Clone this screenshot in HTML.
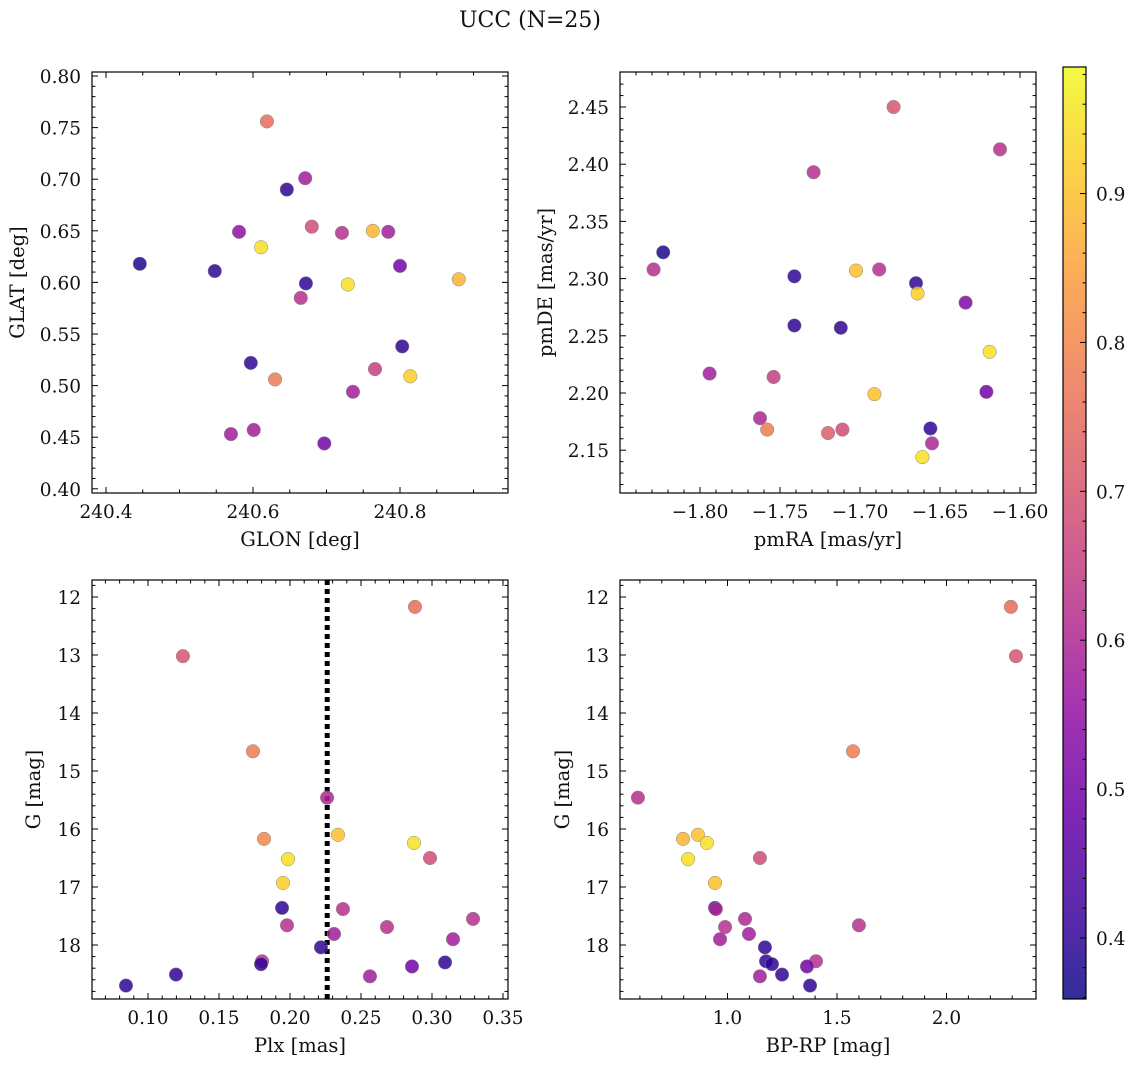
<!DOCTYPE html>
<html><head><meta charset="utf-8"><style>
html,body{margin:0;padding:0;background:#fff}
svg text{font-family:"DejaVu Serif","Liberation Serif",serif;fill:#111}
</style></head><body>
<svg id="chart" width="1136" height="1067" viewBox="0 0 1136 1067" xmlns="http://www.w3.org/2000/svg">
<text x="530" y="27" font-size="22" text-anchor="middle">UCC (N=25)</text>
</svg>
<script>
// ---- data ----
const glon=[240.446,240.548,240.581,240.611,240.646,240.619,240.671,240.680,240.672,240.665,240.721,240.763,240.784,240.729,240.800,240.880,240.597,240.630,240.803,240.766,240.736,240.814,240.570,240.601,240.697];
const glat=[0.618,0.611,0.649,0.634,0.690,0.756,0.701,0.654,0.599,0.585,0.648,0.650,0.649,0.598,0.616,0.603,0.522,0.506,0.538,0.516,0.494,0.509,0.453,0.457,0.444];
const cGal=[0.38,0.40,0.55,0.95,0.40,0.75,0.58,0.68,0.40,0.62,0.62,0.88,0.58,0.95,0.50,0.88,0.40,0.78,0.40,0.65,0.58,0.92,0.58,0.58,0.50];
const pmra=[-1.823,-1.829,-1.741,-1.741,-1.712,-1.729,-1.679,-1.6125,-1.7025,-1.688,-1.665,-1.664,-1.634,-1.619,-1.621,-1.794,-1.754,-1.691,-1.7625,-1.758,-1.720,-1.711,-1.656,-1.655,-1.661];
const pmde=[2.323,2.308,2.302,2.259,2.257,2.393,2.450,2.413,2.307,2.308,2.296,2.287,2.279,2.236,2.201,2.217,2.214,2.199,2.178,2.168,2.165,2.168,2.169,2.156,2.144];
const cPm=[0.38,0.62,0.40,0.40,0.40,0.62,0.70,0.62,0.90,0.62,0.40,0.92,0.52,0.95,0.50,0.58,0.65,0.90,0.60,0.78,0.72,0.68,0.40,0.60,0.95];
const plx=[0.0845,0.1197,0.1246,0.1739,0.1817,0.1986,0.1951,0.1944,0.1979,0.1803,0.1796,0.2261,0.2338,0.2218,0.2310,0.2373,0.2880,0.2873,0.2986,0.2683,0.2859,0.2563,0.3092,0.3148,0.3289];
const gPlx=[18.70,18.51,13.02,14.66,16.17,16.52,16.93,17.36,17.66,18.28,18.33,15.46,16.10,18.04,17.81,17.38,12.17,16.24,16.50,17.69,18.37,18.54,18.30,17.90,17.55];
const cPlx=[0.40,0.40,0.70,0.78,0.80,0.95,0.92,0.40,0.62,0.62,0.40,0.60,0.90,0.40,0.58,0.62,0.75,0.95,0.68,0.62,0.50,0.58,0.40,0.58,0.62];
const bprp=[0.591,0.797,0.865,0.820,0.906,0.943,0.943,0.947,2.294,2.317,1.573,1.148,1.080,0.989,0.966,1.098,1.171,1.176,1.203,1.249,1.148,1.404,1.363,1.377,1.600];
const gCmd=[15.46,16.17,16.10,16.52,16.24,16.93,17.36,17.38,12.17,13.02,14.66,16.50,17.55,17.69,17.90,17.81,18.04,18.28,18.33,18.51,18.54,18.28,18.37,18.70,17.66];
const cCmd=[0.62,0.88,0.90,0.95,0.95,0.90,0.40,0.60,0.75,0.70,0.78,0.68,0.60,0.62,0.58,0.58,0.40,0.40,0.40,0.40,0.58,0.62,0.50,0.40,0.62];
const plxLine=[0.2262];
const cbTicks=[0.4,0.5,0.6,0.7,0.8,0.9];
const cMin=0.359, cMax=0.985;

const NS="http://www.w3.org/2000/svg";
const svg=document.getElementById('chart');
function mk(tag,attrs,parent){const e=document.createElementNS(NS,tag);for(const k in attrs)e.setAttribute(k,attrs[k]);(parent||svg).appendChild(e);return e;}
const stops=[[0,'#0d0887'],[0.1,'#41049d'],[0.2,'#6a00a8'],[0.3,'#8f0da4'],[0.4,'#b12a90'],[0.5,'#cc4778'],[0.6,'#e16462'],[0.7,'#f2844b'],[0.8,'#fca636'],[0.9,'#fcce25'],[1,'#f0f921']];
function hx(h){return [parseInt(h.substr(1,2),16),parseInt(h.substr(3,2),16),parseInt(h.substr(5,2),16)];}
function plasma(t){t=Math.max(0,Math.min(1,t));for(let i=0;i<stops.length-1;i++){if(t<=stops[i+1][0]){const f=(t-stops[i][0])/(stops[i+1][0]-stops[i][0]);const a=hx(stops[i][1]),b=hx(stops[i+1][1]);return 'rgb('+a.map((v,j)=>Math.round(v+(b[j]-v)*f)).join(',')+')';}}return stops[10][1];}
function cmap(c){return plasma((c-cMin)/(cMax-cMin));}
function fmt(v,d){const s=Math.abs(v).toFixed(d);return (v<-1e-9?'\u2212':'')+s;}
const TF=18.5, LF=19.5;
function panel(p){
  const X=v=>p.xp0+(v-p.xv0)*p.xs, Y=v=>p.yp0+(v-p.yv0)*p.ys;
  const g=mk('g',{});  
  const cid='clip-'+p.name;
  const cp=mk('clipPath',{id:cid},g); mk('rect',{x:p.x0,y:p.y0,width:p.x1-p.x0,height:p.y1-p.y0},cp);
  const marks=mk('g',{'clip-path':'url(#'+cid+')'},g);
  if(p.vline){p.vline.forEach(v=>{const l=mk('line',{x1:X(v),x2:X(v),y1:p.y0,y2:p.y1,stroke:'#000','stroke-width':5,'stroke-dasharray':'5,4'},marks);});}
  p.xs_.forEach((xv,i)=>{const c=mk('circle',{cx:X(xv),cy:Y(p.ys_[i]),r:6.8,fill:cmap(p.cs[i]),'fill-opacity':0.85,stroke:'#888','stroke-width':0.5},marks);
    });
  const fr=mk('rect',{x:p.x0,y:p.y0,width:p.x1-p.x0,height:p.y1-p.y0,fill:'none',stroke:'#000','stroke-width':1.2},g);
  
  function ticks(axis){
    const isX=axis==='x';
    const a=isX?p.x0:p.y0,b=isX?p.x1:p.y1;
    const inv=isX?(px=>p.xv0+(px-p.xp0)/p.xs):(px=>p.yv0+(px-p.yp0)/p.ys);
    let v1=inv(a+2),v2=inv(b-2); if(v1>v2){const t=v1;v1=v2;v2=t;}
    const maj=isX?p.xmaj:p.ymaj, nd=isX?p.xdiv:p.ydiv, dec=isX?p.xdec:p.ydec, step=maj/nd;
    for(let k=Math.ceil(v1/step-1e-6);k<=Math.floor(v2/step+1e-6);k++){
      const v=k*step; const isMaj=Math.abs(v/maj-Math.round(v/maj))<1e-6; const L=isMaj?6:3.5;
      if(isX){const x=X(v);mk('line',{x1:x,x2:x,y1:p.y1,y2:p.y1-L,stroke:'#000','stroke-width':1},g);mk('line',{x1:x,x2:x,y1:p.y0,y2:p.y0+L,stroke:'#000','stroke-width':1},g);
        if(isMaj){const t=mk('text',{x:x,y:p.y1+25,'font-size':TF,'text-anchor':'middle'},g);t.textContent=fmt(v,dec);}}
      else{const y=Y(v);mk('line',{x1:p.x0,x2:p.x0+L,y1:y,y2:y,stroke:'#000','stroke-width':1},g);mk('line',{x1:p.x1,x2:p.x1-L,y1:y,y2:y,stroke:'#000','stroke-width':1},g);
        if(isMaj){const t=mk('text',{x:p.x0-11,y:y+7,'font-size':TF,'text-anchor':'end'},g);t.textContent=fmt(v,dec);}}
    }
  }
  ticks('x');ticks('y');
  const xl=mk('text',{x:(p.x0+p.x1)/2,y:p.y1+53,'font-size':LF,'text-anchor':'middle'},g);xl.textContent=p.xlabel;
  
  const yx=p.ylx, yy=(p.y0+p.y1)/2;
  const yl=mk('text',{x:yx,y:yy,'font-size':LF,'text-anchor':'middle',transform:'rotate(-90 '+yx+' '+yy+')'},g);yl.textContent=p.ylabel;
  
}
panel({name:'glon-glat-panel',x0:92,x1:508,y0:72,y1:493,xp0:106,xv0:240.4,xs:735,yp0:76,yv0:0.80,ys:-1032,
  xmaj:0.2,xdiv:4,xdec:1,ymaj:0.05,ydiv:5,ydec:2,xs_:glon,ys_:glat,cs:cGal,xlabel:'GLON [deg]',ylabel:'GLAT [deg]',ylx:24});
panel({name:'pm-panel',x0:620,x1:1036,y0:72,y1:493,xp0:700,xv0:-1.80,xs:1600,yp0:107,yv0:2.45,ys:-1144,
  xmaj:0.05,xdiv:5,xdec:2,ymaj:0.05,ydiv:5,ydec:2,xs_:pmra,ys_:pmde,cs:cPm,xlabel:'pmRA [mas/yr]',ylabel:'pmDE [mas/yr]',ylx:552});
panel({name:'plx-g-panel',x0:92,x1:508,y0:580,y1:999,xp0:148,xv0:0.10,xs:1420,yp0:597,yv0:12,ys:58,
  xmaj:0.05,xdiv:5,xdec:2,ymaj:1,ydiv:5,ydec:0,xs_:plx,ys_:gPlx,cs:cPlx,xlabel:'Plx [mas]',ylabel:'G [mag]',ylx:40,vline:plxLine});
panel({name:'cmd-panel',x0:620,x1:1036,y0:580,y1:999,xp0:727.5,xv0:1.0,xs:219,yp0:597,yv0:12,ys:58,
  xmaj:0.5,xdiv:5,xdec:1,ymaj:1,ydiv:5,ydec:0,xs_:bprp,ys_:gCmd,cs:cCmd,xlabel:'BP-RP [mag]',ylabel:'G [mag]',ylx:569});
(function(){
  const x0=1063,x1=1086,y0=67,y1=999;
  const g=mk('g',{});
  const defs=mk('defs',{},g);const lg=mk('linearGradient',{id:'cbg',x1:0,y1:1,x2:0,y2:0},defs);
  for(let i=0;i<=20;i++){const t=i/20;mk('stop',{offset:t,'stop-color':plasma(t),'stop-opacity':0.85},lg);}
  mk('rect',{x:x0,y:y0,width:x1-x0,height:y1-y0,fill:'url(#cbg)',stroke:'#000','stroke-width':1.2},g);
  const Yc=v=>y1-(v-cMin)/(cMax-cMin)*(y1-y0);
  for(let k=Math.ceil(cMin/0.02);k*0.02<=cMax;k++){const v=k*0.02;const isMaj=Math.abs(v*10-Math.round(v*10))<1e-6;const y=Yc(v);
    mk('line',{x1:x1,x2:x1-(isMaj?6:3.5),y1:y,y2:y,stroke:'#000','stroke-width':1},g);}
  cbTicks.forEach(v=>{const t=mk('text',{x:x1+10,y:Yc(v)+7,'font-size':TF},g);t.textContent=v.toFixed(1);
    });
})();
</script>
</body></html>
